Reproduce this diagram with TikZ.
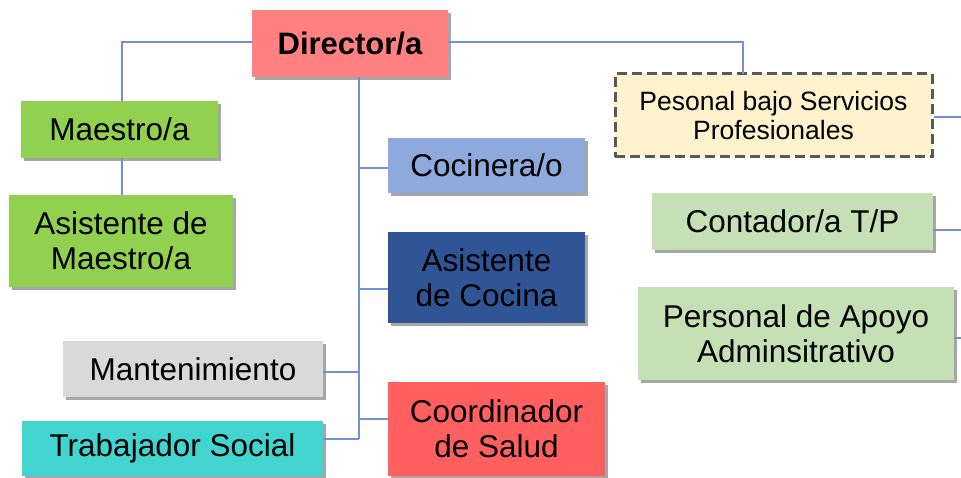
\documentclass[tikz,border=0pt]{standalone}
\usepackage{fontspec}
\setmainfont{Liberation Sans}
\usetikzlibrary{shadows,calc}
\definecolor{dirc}{RGB}{255,128,128}
\definecolor{greenc}{RGB}{146,208,80}
\definecolor{cocc}{RGB}{142,169,219}
\definecolor{acocc}{RGB}{47,85,151}
\definecolor{mantc}{RGB}{217,217,217}
\definecolor{trac}{RGB}{66,212,206}
\definecolor{cooc}{RGB}{255,95,95}
\definecolor{pesc}{RGB}{255,242,204}
\definecolor{pesb}{RGB}{89,89,89}
\definecolor{lgreenc}{RGB}{197,224,180}
\definecolor{linec}{RGB}{112,146,212}
\tikzset{
  box/.style={rectangle, inner sep=0pt, align=center, text=black,
    font=\fontsize{31.5}{35}\selectfont,
    drop shadow={shadow xshift=3pt, shadow yshift=-3pt, fill=black, opacity=0.35}},
  conn/.style={draw=linec, line width=2pt},
}
\begin{document}
\begin{tikzpicture}[x=1pt,y=-1pt]
\useasboundingbox (0,0) rectangle (961,478);
\fill[white] (0,0) rectangle (961,478);

% nodes
\node[box, fill=dirc, minimum width=196pt, minimum height=67pt, font=\fontsize{31}{35}\selectfont\bfseries] (dir) at (350,43.5) {Director/a};
\node[box, fill=greenc, minimum width=197pt, minimum height=57pt] (mae) at (119.5,129.5) {Maestro/a};
\node[box, fill=greenc, minimum width=224pt, minimum height=92pt] (amae) at (121,241) {Asistente de\\Maestro/a};
\node[box, fill=cocc, minimum width=197pt, minimum height=55pt] (coc) at (486.5,165.5) {Cocinera/o};
\node[box, fill=acocc, minimum width=197pt, minimum height=91pt] (acoc) at (486.5,277.5) {Asistente\\de Cocina};
\node[box, fill=mantc, minimum width=260pt, minimum height=56pt] (man) at (193,369) {Mantenimiento};
\node[box, fill=trac, minimum width=301pt, minimum height=55pt] (tra) at (172.5,448.5) {Trabajador Social};
\node[box, fill=cooc, minimum width=217pt, minimum height=94pt] (coo) at (496.5,429) {Coordinador\\de Salud};
\node[rectangle, inner sep=0pt, align=center, fill=pesc, draw=pesb, line width=3pt,
  dash pattern=on 10pt off 5pt, minimum width=317pt, minimum height=83pt,
  font=\fontsize{26.5}{29}\selectfont] (pes) at (773.5,115.5) {Pesonal bajo Servicios\\Profesionales};
\node[box, fill=lgreenc, minimum width=281pt, minimum height=57pt] (con) at (792.5,221.5) {Contador/a T/P};
\node[box, fill=lgreenc, minimum width=316pt, minimum height=93pt] (apo) at (796,333.5) {Personal de Apoyo\\Adminsitrativo};

% helper coordinates
\coordinate (tt) at (359,77);
\coordinate (tb) at (359,439);
\coordinate (tcoc) at (359,168);
\coordinate (tacoc) at (359,289);
\coordinate (tman) at (359,372);
\coordinate (tcoo) at (359,419);
\coordinate (pj) at (743,74);
\coordinate (lm) at (122,42);
\coordinate (epes) at (961,117);
\coordinate (econ) at (961,230);
\coordinate (eapo) at (961,338);

% connectors
\draw[conn] (dir.west |- lm) -- (lm) -- (lm |- mae.north);
\draw[conn] (lm |- mae.south) -- (lm |- amae.north);
\draw[conn] (dir.east |- lm) -| (pj);
\draw[conn] (tt) -- (tb);
\draw[conn] (coc.west |- tcoc) -- (tcoc);
\draw[conn] (acoc.west |- tacoc) -- (tacoc);
\draw[conn] (coo.west |- tcoo) -- (tcoo);
\draw[conn] (man.east |- tman) -- (tman);
\draw[conn] (tra.east |- tb) -- (tb);
\draw[conn] (pes.east |- epes) -- (epes);
\draw[conn] (con.east |- econ) -- (econ);
\draw[conn] (apo.east |- eapo) -- (eapo);
\end{tikzpicture}
\end{document}
